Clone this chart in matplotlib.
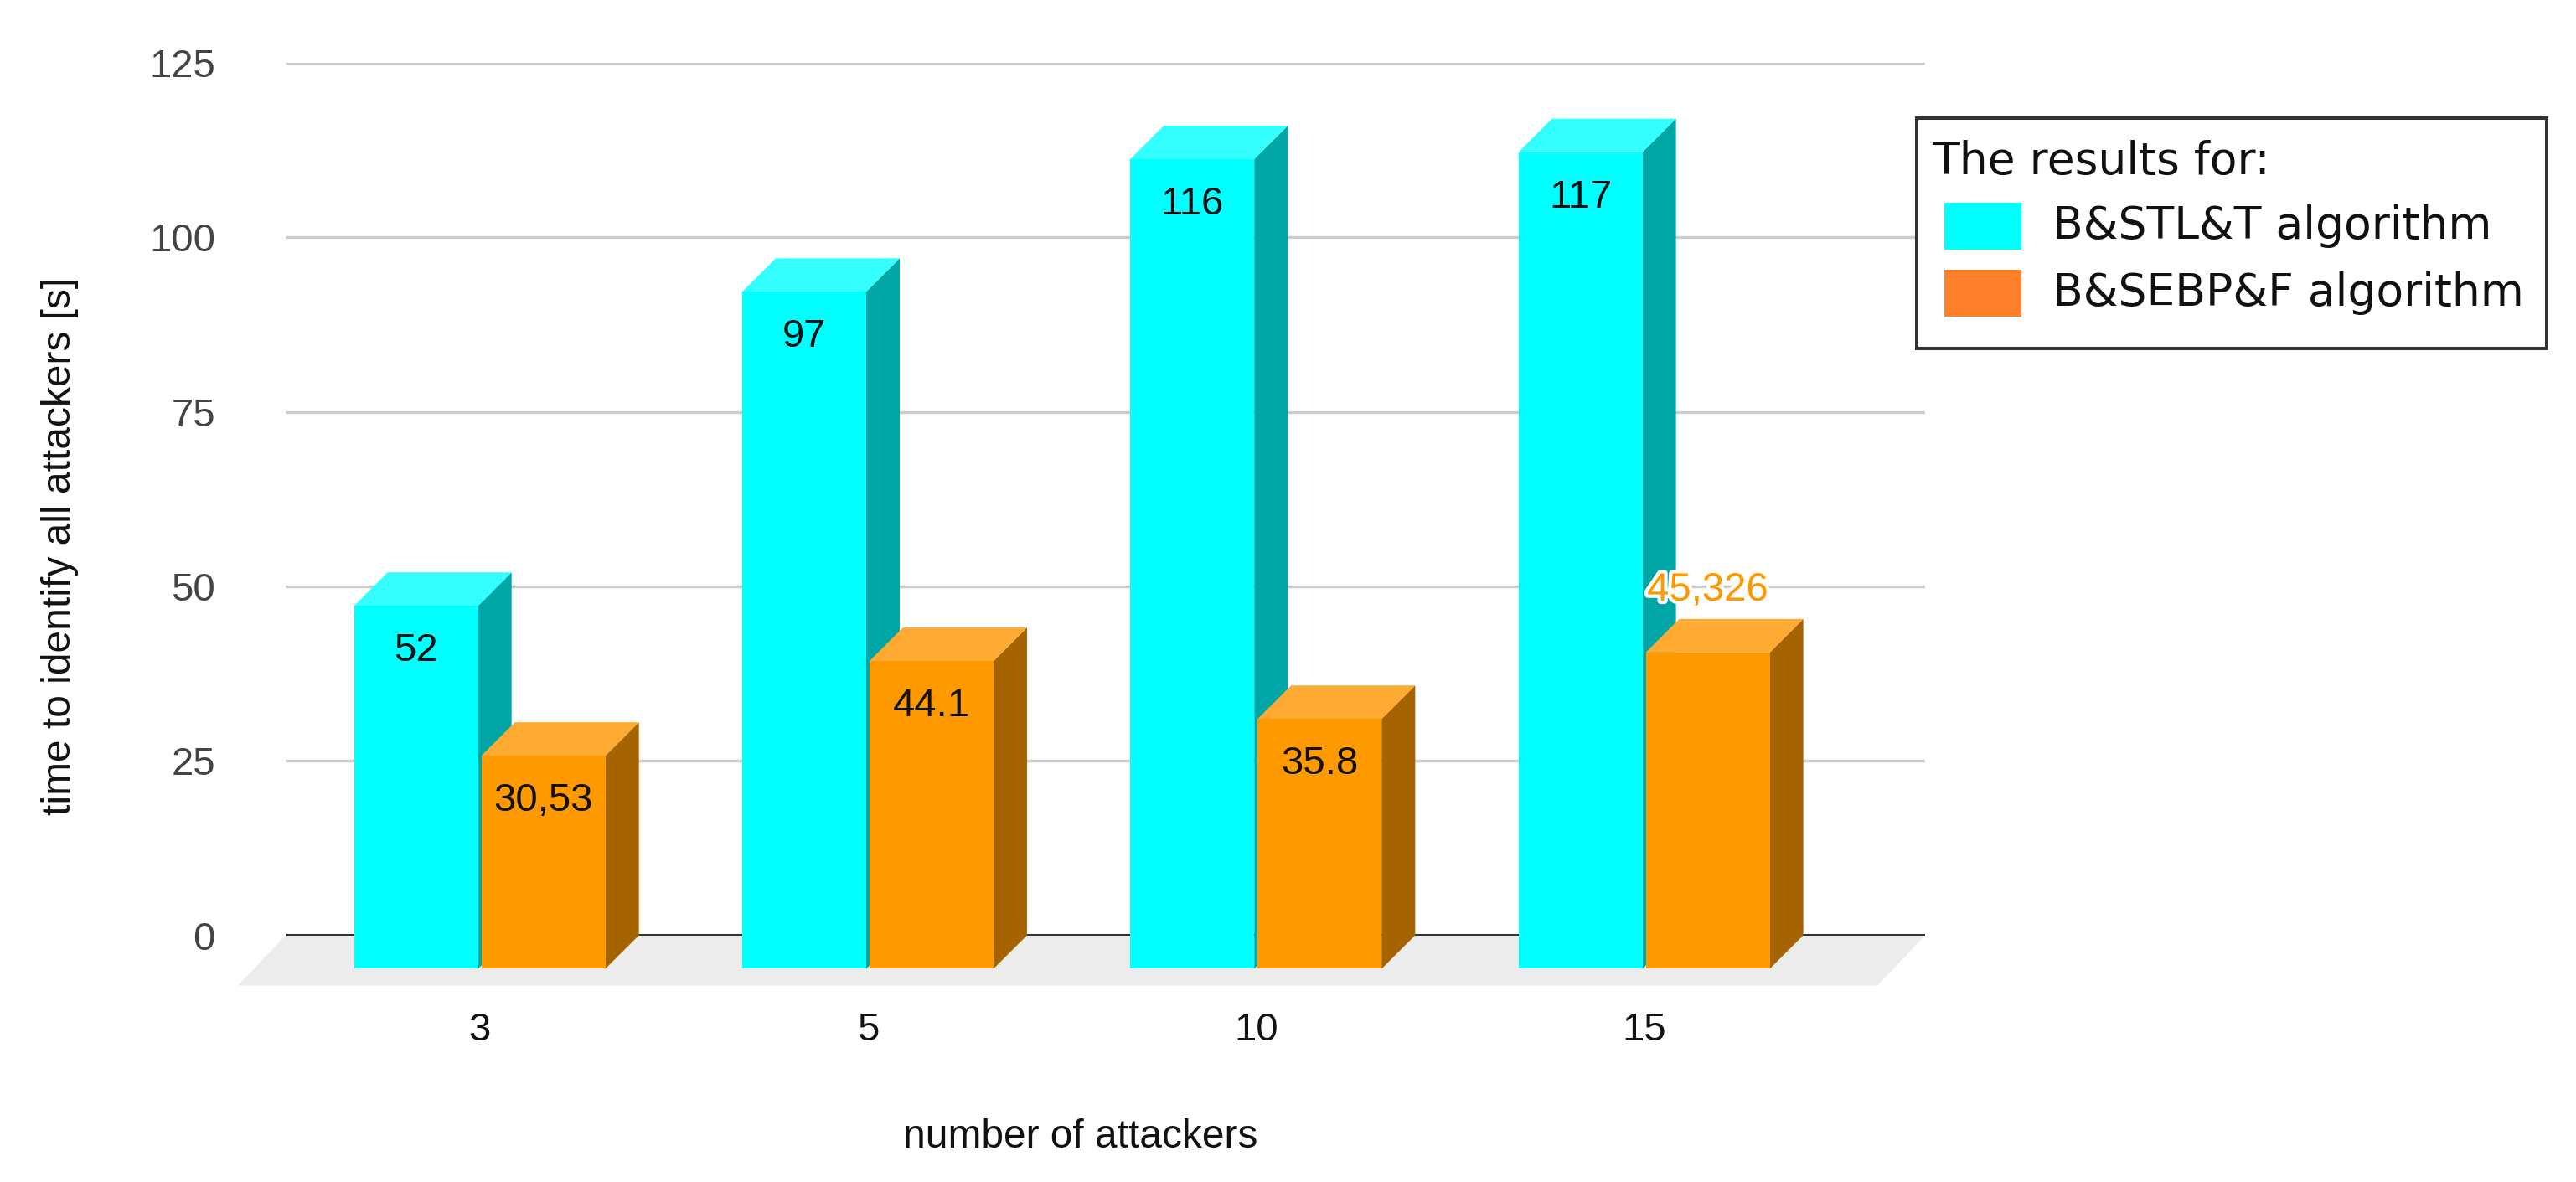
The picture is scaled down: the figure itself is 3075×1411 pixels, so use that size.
import matplotlib
matplotlib.use('Agg')
import matplotlib.pyplot as plt
import matplotlib.patheffects as pe
from matplotlib.patches import Polygon, Rectangle

plt.rcParams['font.family'] = ['Liberation Sans', 'DejaVu Sans']

# data
attackers = ['3', '5', '10', '15']
stlt_times = [52, 97, 116, 117]
sebpf_times = [30.53, 44.1, 35.8, 45.326]
stlt_labels = ['52', '97', '116', '117']
sebpf_labels = ['30,53', '44.1', '35.8', '45,326']
y_ticks = [0, 25, 50, 75, 100, 125]

# figure in pixels
W, H = 3075, 1411
fig = plt.figure(figsize=(W / 100, H / 100), dpi=100)
ax = fig.add_axes([341 / W, 1 - 1116.5 / H, (2298 - 341) / W, (1116.5 - 75) / H])
ax.set_xlim(-0.5, 3.724)
ax.set_ylim(0, 125)
for s in ax.spines.values():
    s.set_visible(False)
ax.patch.set_visible(False)

# fake 3d look
bar_w = 0.3195
gap = 0.0086
dx = 0.0864   # depth in x units
dy = 4.8      # depth in y units

cyan = ('#00ffff', '#33ffff', '#00a6a6')
orange = ('#ff9900', '#ffab33', '#a66400')


def draw_bar(x0, v, cols, z):
    front, top, side = cols
    x1 = x0 + bar_w
    ax.add_patch(Polygon([(x1, -dy), (x1 + dx, 0), (x1 + dx, v), (x1, v - dy)],
                         closed=True, facecolor=side, lw=0, clip_on=False, zorder=z))
    ax.add_patch(Polygon([(x0, v - dy), (x1, v - dy), (x1 + dx, v), (x0 + dx, v)],
                         closed=True, facecolor=top, lw=0, clip_on=False, zorder=z))
    ax.add_patch(Polygon([(x0, -dy), (x1, -dy), (x1, v - dy), (x0, v - dy)],
                         closed=True, facecolor=front, lw=0, clip_on=False, zorder=z))


# floor
xl, xr = ax.get_xlim()
fdx, fdy = 0.123, 7.2
ax.add_patch(Polygon([(xl, 0), (xr, 0), (xr - fdx, -fdy), (xl - fdx, -fdy)],
                     closed=True, facecolor='#ececec', lw=0, clip_on=False, zorder=1))

# grid
for t in y_ticks[1:]:
    ax.axhline(t, color='#cccccc', lw=2.5, zorder=1)
ax.axhline(0, color='#333333', lw=2.9, zorder=2)

# bars
for i in range(len(attackers)):
    xc = i - gap / 2 - bar_w
    xo = i + gap / 2
    draw_bar(xc, stlt_times[i], cyan, 3 + 2 * i)
    draw_bar(xo, sebpf_times[i], orange, 4 + 2 * i)
    ax.annotate(stlt_labels[i], (xc + bar_w / 2, stlt_times[i]), xytext=(0, -64),
                textcoords='offset points', ha='center', va='center_baseline',
                fontsize=34, color='#111111', zorder=20)
    if i == 3:
        ax.annotate(sebpf_labels[i], (xo + bar_w / 2, sebpf_times[i]), xytext=(0, 28),
                    textcoords='offset points', ha='center', va='center_baseline',
                    fontsize=34, color='#ff9900', zorder=20,
                    path_effects=[pe.withStroke(linewidth=6, foreground='white')])
    else:
        ax.annotate(sebpf_labels[i], (xo + bar_w / 2, sebpf_times[i]), xytext=(0, -64),
                    textcoords='offset points', ha='center', va='center_baseline',
                    fontsize=34, color='#111111', zorder=20)

# ticks
ax.set_yticks(y_ticks)
ax.set_yticklabels([str(t) for t in y_ticks])
ax.tick_params(axis='y', length=0, pad=60.5, labelsize=34, labelcolor='#444444')
ax.set_xticks(range(len(attackers)))
ax.set_xticklabels(attackers)
ax.tick_params(axis='x', length=0, pad=66, labelsize=34, labelcolor='#111111')

# axis titles
fig.text(72 / W, 1 - 652 / H, 'time to identify all attackers [s]', rotation=90,
         ha='center', va='center', fontsize=34.5, color='#111111')
fig.text(1290 / W, 1 - 1370 / H, 'number of attackers', ha='center', va='baseline',
         fontsize=34.5, color='#111111')

# legend box
fig.add_artist(Rectangle((2288 / W, 1 - 416 / H), (3040 - 2288) / W, (416 - 141) / H,
                         transform=fig.transFigure, facecolor='white',
                         edgecolor='#333333', lw=2.9, zorder=30))
fig.text(2306 / W, 1 - 208 / H, 'The results for:', family='DejaVu Sans',
         fontsize=38.5, va='baseline', color='#111111', zorder=31)
legend_rows = [('B&STL&T algorithm', '#00ffff', 242, 285),
               ('B&SEBP&F algorithm', '#ff7f2a', 322, 365)]
for name, col, top, base in legend_rows:
    fig.add_artist(Rectangle((2321 / W, 1 - (top + 56) / H), 92 / W, 56 / H,
                             transform=fig.transFigure, facecolor=col, lw=0, zorder=31))
    fig.text(2450 / W, 1 - base / H, name, family='DejaVu Sans', fontsize=38.5,
             va='baseline', color='#111111', zorder=31)

fig.savefig('out.png', dpi=100)
